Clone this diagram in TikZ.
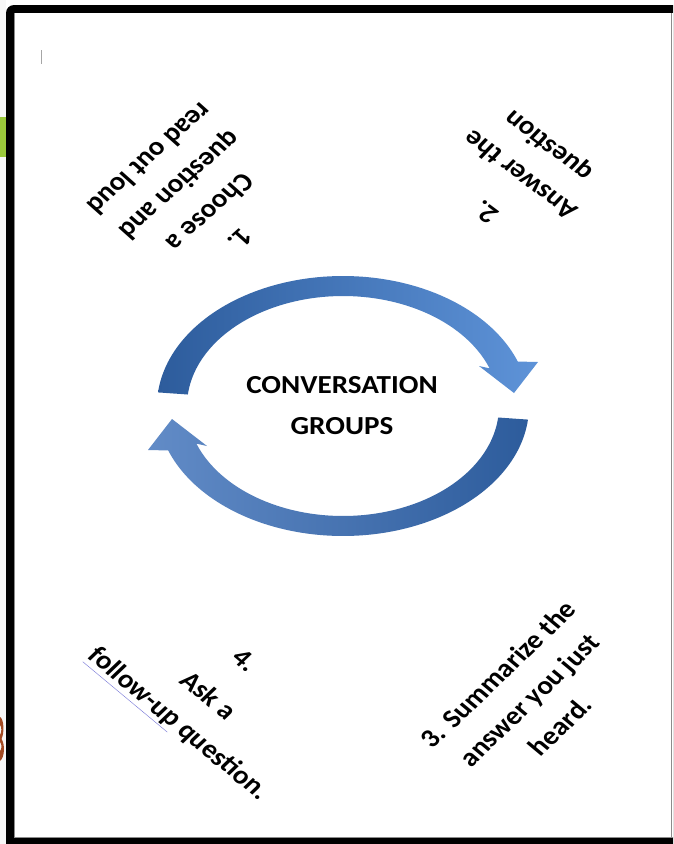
\documentclass[tikz,border=0pt]{standalone}
\usepackage{fontspec}
\setmainfont{Carlito}
\definecolor{arrdark}{HTML}{2D5C9C}
\definecolor{arrmid}{HTML}{4677BD}
\definecolor{arrlight}{HTML}{5E93D8}
\definecolor{greenbar}{HTML}{9BC93B}
\definecolor{brownfrag}{HTML}{A34A22}
\definecolor{ulblue}{HTML}{7878D8}
\begin{document}
\begin{tikzpicture}[x=1pt,y=-1pt,
  txt/.style={font=\bfseries\fontsize{26}{38}\selectfont, align=center, inner sep=0pt, transform shape, xscale=1.12},
  ctxt/.style={font=\bfseries\fontsize{26}{41}\selectfont, align=center, inner sep=0pt, transform shape, xscale=1.12}]
\useasboundingbox (0,0) rectangle (673,844);
\clip (0,0) rectangle (673,844);
\fill[white] (0,0) rectangle (673,844);
\fill[black!3] (0,0) rectangle (6,844);
\fill[greenbar] (0,117) rectangle (6,157);
% brown fragment at the left edge
\fill[brownfrag] (0,717) .. controls (4,719) and (4.5,733) .. (1.5,739)
  .. controls (5,744) and (5,757) .. (0,761) -- (0,751)
  .. controls (2,749) and (2,744) .. (0,742) -- (0,735)
  .. controls (1.8,732) and (1.8,727) .. (0,725) -- cycle;
% frame
\fill[black, rounded corners=8] (6,5) rectangle (720,880);
\fill[white] (14,13) rectangle (700,838);
\draw[black!45, line width=0.8] (14.4,13) -- (14.4,837.6) -- (700,837.6);
\draw[black!45, line width=0.8] (671.5,13) -- (671.5,837.6);
\draw[black!35, line width=0.9] (41,50) -- (41,64);
% arrows
\shade[left color=arrdark, right color=arrlight]
  plot[domain=186:340, samples=90] ({343+186*cos(\x)},{406+130*sin(\x)})
  -- (538,362) -- (514,393) -- (479,366)
  -- plot[domain=340:186, samples=90] ({343+156*cos(\x)},{406+110*sin(\x)}) -- cycle;
\shade[left color=arrmid!85!white, right color=arrdark]
  plot[domain=6:160, samples=90] ({343+186*cos(\x)},{406+130*sin(\x)})
  -- (148,450) -- (172,419) -- (207,446)
  -- plot[domain=160:6, samples=90] ({343+156*cos(\x)},{406+110*sin(\x)}) -- cycle;
% texts
\node[ctxt] (c) at (342,406) {CONVERSATION\\GROUPS};
\node[txt, rotate=225] (t1) at (195,199) {1.\\Choose a\\question and\\read out loud};
\node[txt, rotate=140] (t2) at (518,178) {2.\\[10pt]Answer the\\question};
\node[txt, rotate=47] (t3) at (529,700) {3. Summarize the\\answer you just\\heard.};
\node[txt, rotate=-43] (t4) at (210,694) {4.\\[10pt]Ask a\\{\color{ulblue}\underline{\color{black}follow-up}} question.};
\end{tikzpicture}
\end{document}
